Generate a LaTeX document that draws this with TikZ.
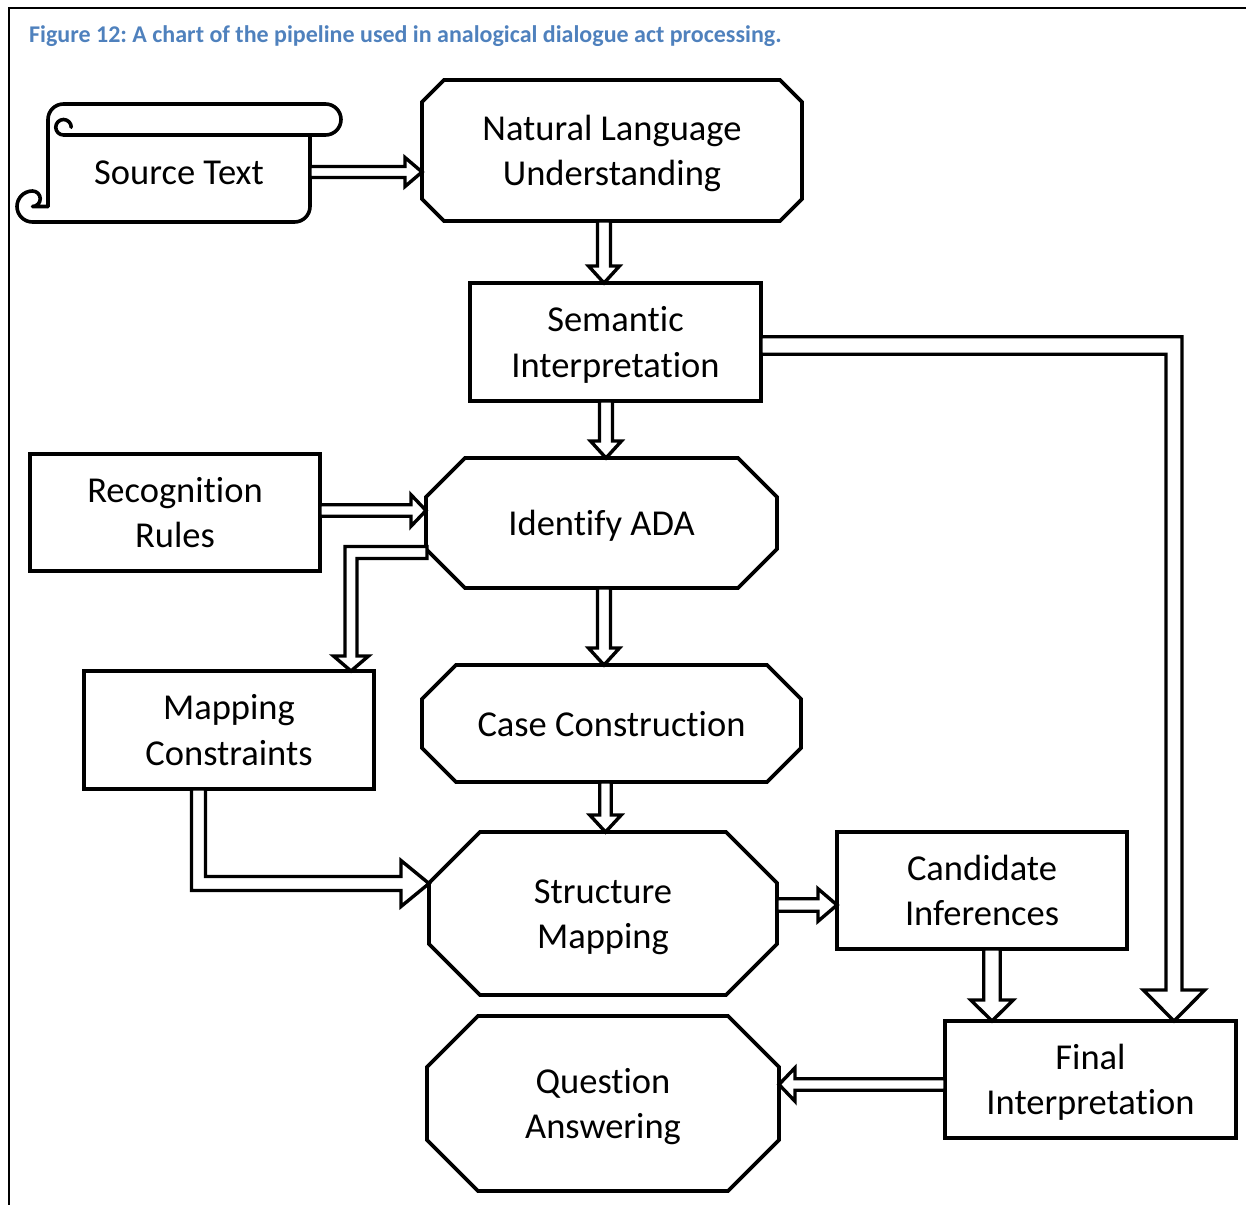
\documentclass[tikz,border=0pt]{standalone}
\usepackage{fontspec}
\setmainfont{Carlito}[Ligatures=NoCommon]
\usetikzlibrary{calc}
\definecolor{capblue}{HTML}{4F81BD}
\frenchspacing
\newcommand\st{\rule[-10pt]{0pt}{45pt}}
\newcommand\octo[2]{\draw[octline] ($(#1.north west)+(#2,0)$) -- ($(#1.north east)+(-#2,0)$) -- ($(#1.north east)+(0,#2)$) -- ($(#1.south east)+(0,-#2)$) -- ($(#1.south east)+(-#2,0)$) -- ($(#1.south west)+(#2,0)$) -- ($(#1.south west)+(0,-#2)$) -- ($(#1.north west)+(0,#2)$) -- cycle;}
\newcommand\BArDown[5]{\draw[barrow] ($(#1)+(-#3,0)$) -- ($(#2)+(-#3,-#5)$) -- ($(#2)+(-#4,-#5)$) -- (#2) -- ($(#2)+(#4,-#5)$) -- ($(#2)+(#3,-#5)$) -- ($(#1)+(#3,0)$) -- cycle;}
\newcommand\BArRight[5]{\draw[barrow] ($(#1)+(0,-#3)$) -- ($(#2)+(-#5,-#3)$) -- ($(#2)+(-#5,-#4)$) -- (#2) -- ($(#2)+(-#5,#4)$) -- ($(#2)+(-#5,#3)$) -- ($(#1)+(0,#3)$) -- cycle;}
\newcommand\BArLeft[5]{\draw[barrow] ($(#1)+(0,-#3)$) -- ($(#2)+(#5,-#3)$) -- ($(#2)+(#5,-#4)$) -- (#2) -- ($(#2)+(#5,#4)$) -- ($(#2)+(#5,#3)$) -- ($(#1)+(0,#3)$) -- cycle;}
\begin{document}
\begin{tikzpicture}[x=1pt,y=-1pt,
  lbl/.style={font=\fontsize{36.5}{45.5}\selectfont, align=center, inner sep=0pt, outer sep=0pt},
  rectbox/.style={lbl, draw, line width=3.8pt, line join=miter},
  octline/.style={line width=3.8pt, line join=miter},
  barrow/.style={draw, fill=white, line width=3.4pt, line join=miter},
  scrollline/.style={line width=3.6pt, line join=round, line cap=round}]
\useasboundingbox (0,0) rectangle (1246,1205);
\draw[line width=1.6pt] (1246,8) -- (9,8) -- (9,1205);
\node[anchor=base west, text=capblue, font=\fontsize{24}{29}\selectfont\bfseries, inner sep=0pt] (cap) at (29,42.5) {Figure 12: A chart of the pipeline used in analogical dialogue act processing.};

% nodes
\node[lbl, minimum width=262pt, minimum height=87pt] (src) at (179,172) {\st Source Text};
\node[lbl, minimum width=380pt, minimum height=141pt] (nlu) at (612,150.5) {\st Natural Language\\\st Understanding};
\node[rectbox, minimum width=291pt, minimum height=118pt] (si) at (615.5,342) {\st Semantic\\\st Interpretation};
\node[rectbox, minimum width=290pt, minimum height=117pt] (rr) at (175,512.5) {\st Recognition\\\st Rules};
\node[lbl, minimum width=351pt, minimum height=130pt] (ida) at (601.5,523) {\st Identify ADA};
\node[rectbox, minimum width=290pt, minimum height=118pt] (mc) at (229,730) {\st Mapping\\\st Constraints};
\node[lbl, minimum width=379pt, minimum height=117pt] (cc) at (611.5,723.5) {\st Case Construction};
\node[lbl, minimum width=348pt, minimum height=163pt] (sm) at (603,913.5) {\st Structure\\\st Mapping};
\node[rectbox, minimum width=290pt, minimum height=117pt] (ci) at (982,890.5) {\st Candidate\\\st Inferences};
\node[rectbox, minimum width=291pt, minimum height=117pt] (fi) at (1090.5,1079.5) {\st Final\\\st Interpretation};
\node[lbl, minimum width=352pt, minimum height=175pt] (qa) at (603,1103.5) {\st Question\\\st Answering};

\octo{nlu}{22}
\octo{ida}{39}
\octo{cc}{34}
\octo{sm}{51}
\octo{qa}{51}

% scroll
\draw[scrollline] (48,206.5) -- (48,119.5) arc[start angle=180, end angle=90, radius=15.5pt] -- (325.5,104) arc[start angle=90, end angle=-90, radius=15.5pt] -- (63.5,135) arc[start angle=270, end angle=90, radius=7.75pt] arc[start angle=90, end angle=0, radius=7.75pt];
\draw[scrollline] (310,135) -- (310,206.5) arc[start angle=0, end angle=-90, radius=15.5pt] -- (32.5,222) arc[start angle=-90, end angle=-270, radius=15.5pt] arc[start angle=90, end angle=-90, radius=7.75pt] -- (48,206.5);

% straight arrows
\coordinate (a1s) at (src.east);
\coordinate (a1t) at (nlu.west |- a1s);
\BArRight{a1s}{a1t}{5.5}{14.5}{17}

\coordinate (a2s) at ($(nlu.south)+(-8,0)$);
\coordinate (a2t) at ($(si.north)+(-11.5,0)$);
\BArDown{a2s}{a2t}{6.5}{15.5}{17}

\coordinate (a3s) at ($(si.south)+(-9.5,0)$);
\coordinate (a3t) at ($(ida.north)+(4.5,0)$);
\BArDown{a3s}{a3t}{6.5}{15.5}{17}

\coordinate (a4s) at ($(rr.east)+(0,-2)$);
\coordinate (a4t) at (ida.west |- a4s);
\BArRight{a4s}{a4t}{5.75}{15.75}{15}

\coordinate (a6s) at ($(ida.south)+(2.5,0)$);
\coordinate (a6t) at ($(cc.north)+(-7.5,0)$);
\BArDown{a6s}{a6t}{6.5}{15.5}{17}

\coordinate (a7s) at ($(cc.south)+(-6,0)$);
\coordinate (a7t) at ($(sm.north)+(2.5,0)$);
\BArDown{a7s}{a7t}{5.75}{15.75}{17}

\coordinate (a9s) at ($(sm.east)+(0,-8.5)$);
\coordinate (a9t) at (ci.west |- a9s);
\BArRight{a9s}{a9t}{6.25}{16.25}{19}

\coordinate (a10s) at ($(ci.south)+(10,0)$);
\coordinate (a10t) at ($(fi.north)+(-98.5,0)$);
\BArDown{a10s}{a10t}{8.25}{21.25}{21}

\coordinate (a12s) at ($(fi.west)+(0,5)$);
\coordinate (a12t) at (qa.east |- a12s);
\BArLeft{a12s}{a12t}{5.75}{16.75}{16}

% elbow: Identify ADA -> Mapping Constraints
\coordinate (e5s) at ($(ida.west)+(1,29.5)$);
\coordinate (e5t) at ($(mc.north)+(122,0)$);
\draw[barrow] ($(e5s)+(0,-6)$) -- ($(e5s -| e5t)+(-6,-6)$) -- ($(e5t)+(-6,-15)$) -- ($(e5t)+(-17.5,-15)$) -- (e5t) -- ($(e5t)+(17.5,-15)$) -- ($(e5t)+(6,-15)$) -- ($(e5s -| e5t)+(6,6)$) -- ($(e5s)+(0,6)$) -- cycle;

% elbow: Mapping Constraints -> Structure Mapping
\coordinate (e8s) at ($(mc.south)+(-30.5,0)$);
\coordinate (e8t) at ($(sm.west)+(0,-30)$);
\draw[barrow] ($(e8s)+(-7,0)$) -- ($(e8s |- e8t)+(-7,7)$) -- ($(e8t)+(-28,7)$) -- ($(e8t)+(-28,23)$) -- (e8t) -- ($(e8t)+(-28,-23)$) -- ($(e8t)+(-28,-7)$) -- ($(e8s |- e8t)+(7,-7)$) -- ($(e8s)+(7,0)$) -- cycle;

% elbow: Semantic Interpretation -> Final Interpretation
\coordinate (e11s) at ($(si.east)+(0,3.5)$);
\coordinate (e11t) at ($(fi.north)+(83.5,0)$);
\draw[barrow] ($(e11s)+(0,-8.75)$) -- ($(e11s -| e11t)+(8,-8.75)$) -- ($(e11t)+(8,-31)$) -- ($(e11t)+(30.75,-31)$) -- (e11t) -- ($(e11t)+(-30.75,-31)$) -- ($(e11t)+(-8,-31)$) -- ($(e11s -| e11t)+(-8,8.75)$) -- ($(e11s)+(0,8.75)$) -- cycle;
\end{tikzpicture}
\end{document}
